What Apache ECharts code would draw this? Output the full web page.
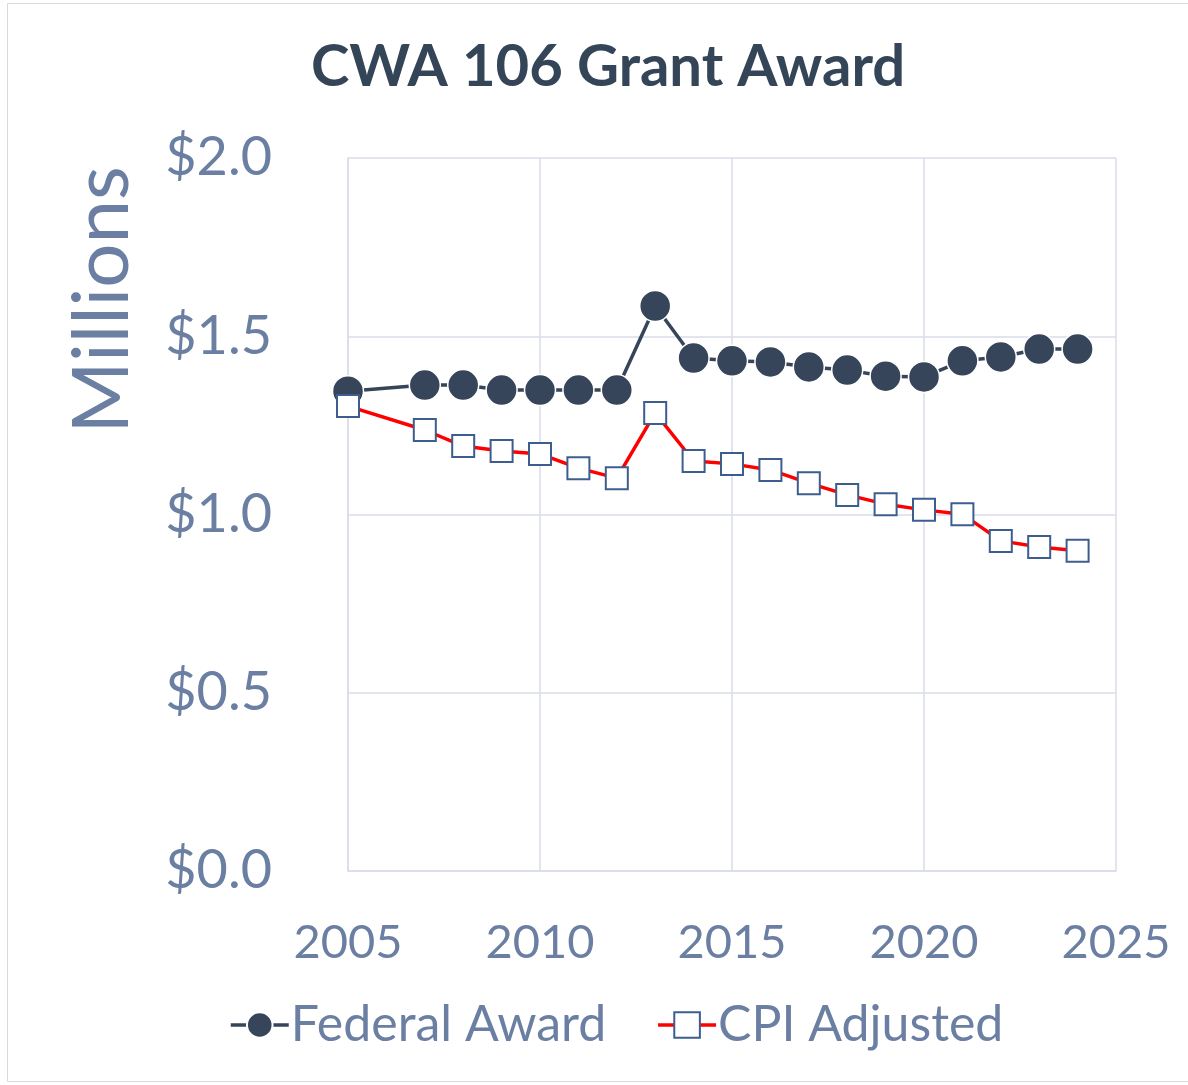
<!DOCTYPE html>
<html>
<head>
<meta charset="utf-8">
<script src="https://cdn.jsdelivr.net/npm/echarts@6/dist/echarts.min.js"></script>
<style>
html,body{margin:0;padding:0;background:#fff;}
#chart{width:1188px;height:1085px;}
</style>
</head>
<body>
<div id="chart"></div>
<script>
const years = [2005, 2007, 2008, 2009, 2010, 2011, 2012, 2013, 2014, 2015, 2016, 2017, 2018, 2019, 2020, 2021, 2022, 2023, 2024];
const federalAward = [1.346, 1.363, 1.363, 1.349, 1.349, 1.349, 1.349, 1.585, 1.439, 1.431, 1.428, 1.414, 1.405, 1.388, 1.386, 1.431, 1.442, 1.464, 1.464];
const cpiAdjusted = [1.304, 1.237, 1.192, 1.178, 1.170, 1.130, 1.102, 1.285, 1.150, 1.142, 1.125, 1.088, 1.055, 1.029, 1.013, 1.001, 0.926, 0.909, 0.898];
const seriesNames = ['Federal Award', 'CPI Adjusted'];
const titleText = 'CWA 106 Grant Award';
const yAxisName = 'Millions';

const FONT = 'Lato';
const labelColor = '#6b7fa3';
const gridColor = '#d9dde8';

const chart = echarts.init(document.getElementById('chart'));
chart.setOption({
  backgroundColor: '#fff',
  animation: false,
  title: {
    text: titleText,
    left: 306,
    top: 33,
    textStyle: {fontFamily: FONT, fontSize: 58, fontWeight: 'bold', color: '#344558'}
  },
  graphic: [{
    type: 'rect',
    shape: {x: 7.5, y: 3.5, width: 1200, height: 1078},
    style: {fill: 'none', stroke: '#d9d9d9', lineWidth: 1},
    silent: true
  }, {
    type: 'text',
    x: 103, y: 300,
    rotation: Math.PI / 2,
    style: {
      text: yAxisName,
      fontFamily: FONT, fontSize: 78, fill: labelColor,
      align: 'center', verticalAlign: 'middle'
    },
    silent: true
  }],
  legend: {
    bottom: 30,
    left: 224,
    itemGap: 50,
    itemWidth: 58,
    itemHeight: 32,
    lineStyle: {width: 3.5},
    textStyle: {fontFamily: FONT, fontSize: 50, color: labelColor, padding: [0, 0, 0, -3]},
    data: seriesNames
  },
  grid: {left: 348, right: 72, top: 158, bottom: 214, containLabel: false},
  xAxis: {
    type: 'value',
    min: 2005, max: 2025, interval: 5,
    axisLine: {show: true, lineStyle: {color: gridColor, width: 1.5}},
    axisTick: {show: false},
    splitLine: {show: true, lineStyle: {color: gridColor, width: 1.5}},
    axisLabel: {fontFamily: FONT, fontSize: 47, color: labelColor, margin: 48, formatter: v => String(v)}
  },
  yAxis: {
    type: 'value',
    min: 0, max: 2, interval: 0.5,
    axisLine: {show: true, lineStyle: {color: gridColor, width: 1.5}},
    axisTick: {show: false},
    splitLine: {show: true, lineStyle: {color: gridColor, width: 1.5}},
    axisLabel: {fontFamily: FONT, fontSize: 54, color: labelColor, margin: 76, formatter: v => '$' + v.toFixed(1)}
  },
  series: [
    {
      name: seriesNames[0],
      type: 'line',
      data: years.map((y, i) => [y, federalAward[i]]),
      symbol: 'circle',
      symbolSize: 31,
      itemStyle: {color: '#36455a', borderColor: '#ffffff', borderWidth: 1.5},
      lineStyle: {color: '#36455a', width: 3.5},
      z: 3
    },
    {
      name: seriesNames[1],
      type: 'line',
      data: years.map((y, i) => [y, cpiAdjusted[i]]),
      symbol: 'rect',
      symbolSize: 22,
      itemStyle: {color: '#ffffff', borderColor: '#3e5d8f', borderWidth: 2},
      lineStyle: {color: '#ff0000', width: 3.5},
      z: 4
    }
  ]
});
</script>
</body>
</html>
